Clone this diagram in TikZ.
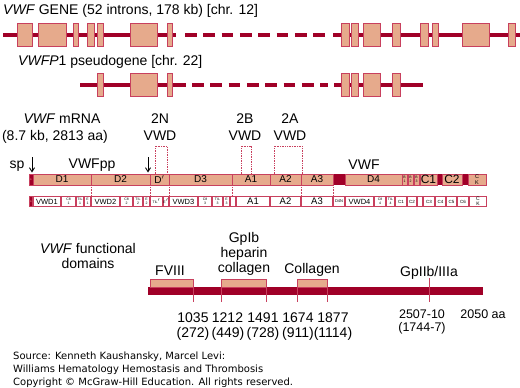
\documentclass[tikz,border=0pt]{standalone}
\usepackage{fontspec}
\setmainfont{Liberation Sans}
\newfontfamily\srcfont{DejaVu Sans}
\usetikzlibrary{arrows.meta}
\definecolor{vwfred}{RGB}{160,0,40}
\definecolor{vwftan}{RGB}{230,170,140}
\definecolor{vwfedge}{RGB}{200,64,94}
\newcommand\fs[1]{\fontsize{#1}{#1}\selectfont}
\tikzset{
  intron/.style={draw=vwfred, line width=4pt},
  exon/.style={draw=vwfedge, fill=vwftan, line width=0.8pt},
  dom/.style={draw=vwfedge, fill=vwftan, line width=0.8pt, inner sep=0pt, minimum height=11pt, font=\fs{10}},
  sub/.style={draw=vwfedge, fill=white, line width=0.8pt, inner sep=0pt, minimum height=10.5pt, font=\fs{7.5}},
  tinytxt/.style={font=\fs{3.5}, align=center},
  vwdbox/.style={draw=vwfedge, densely dotted, line width=0.7pt},
  sep/.style={draw=vwfedge, densely dotted, line width=0.6pt},
  lbl/.style={font=\fs{14}, inner sep=0pt},
  small/.style={font=\fs{12.5}, inner sep=0pt},
  tick/.style={draw=vwfedge, line width=1pt},
  src/.style={font=\srcfont\fs{10}, inner sep=0pt, anchor=base west},
  arr/.style={-{Straight Barb[length=4pt,width=5pt]}, line width=0.9pt},
}
% main domain box: [style]{name}{x1}{x2}{text}
\newcommand\mdom[5][]{\node[dom,#1,minimum width={(#4-#3)*1pt}] (#2) at ({(#3+#4)/2},179.5) {#5};}
% sub domain box
\newcommand\sdom[5][]{\node[sub,#1,minimum width={(#4-#3)*1pt-1.4pt}] (#2) at ({(#3+#4)/2},201.5) {#5};}
\begin{document}
\begin{tikzpicture}[x=1pt,y=-1pt]
\useasboundingbox (0,0) rectangle (520,388);
% gene
\node[lbl, anchor=base west] (gene) at (3,14) {\textit{VWF} GENE (52 introns, 178 kb) [chr. 12]};
\draw[intron] (3,34.5) -- (176,34.5);
\draw[intron, dash pattern=on 11.7pt off 6.6pt] (185,34.5) -- (325,34.5);
\draw[intron] (333,34.5) -- (520,34.5);
\foreach \a/\b in {17/32, 38/66, 73/78, 87/94, 97/103, 130/157, 167/172, 341/349, 351/358, 363/380, 392/400, 420/428, 432/438, 462/489, 508/515}
  \draw[exon] (\a,23) rectangle (\b,46);
% pseudogene
\node[lbl, anchor=base west] (pseudo) at (18,65) {\textit{VWFP}1 pseudogene [chr. 22]};
\draw[intron] (80,85) -- (186,85);
\draw[intron, dash pattern=on 11.7pt off 6.6pt] (192,85) -- (328,85);
\draw[intron] (334,85) -- (423,85);
\foreach \a/\b in {97/103, 130/157, 167/172, 341/349, 351/358, 363/380, 392/400}
  \draw[exon] (\a,73.5) rectangle (\b,96.5);
% mRNA
\node[lbl, anchor=base] (mrna) at (62,123) {\textit{VWF} mRNA};
\node[lbl, anchor=base] (mrnasize) at (55,140) {(8.7 kb, 2813 aa)};
\node[lbl, anchor=base] (t2n) at (160,123) {2N};
\node[lbl, anchor=base] (v2n) at (160,140) {VWD};
\node[lbl, anchor=base] (t2b) at (245,123) {2B};
\node[lbl, anchor=base] (v2b) at (245,140) {VWD};
\node[lbl, anchor=base] (t2a) at (290,123) {2A};
\node[lbl, anchor=base] (v2a) at (290,140) {VWD};
\draw[vwdbox] (155,174) |- (167,146) -- (167,174);
\draw[vwdbox] (241,174) |- (251,146) -- (251,174);
\draw[vwdbox] (274,174) |- (302,146) -- (302,174);
\node[lbl, anchor=base] (sp) at (17,168) {sp};
\node[lbl, anchor=base] (vwfpp) at (92,168) {VWFpp};
\node[lbl, anchor=base] (vwf) at (364,169) {VWF};
\coordinate (sparr) at (32,157);
\coordinate (pparr) at (148,157);
\draw[arr] (sparr) -- (32,172.5);
\draw[arr] (pparr) -- (148,172.5);
\fill[vwfred] (29,174) rectangle (486,185);
\mdom[fill=vwfred, font=\fs{3}, text=vwftan]{spm}{29}{33}{s}
\mdom{D1}{33}{91}{D1}
\mdom{D2}{91}{150}{D2}
\mdom{Dp}{150}{169}{D$'$}
\mdom{D3}{169}{232}{D3}
\mdom{A1}{232}{270}{A1}
\mdom{A2}{270}{301}{A2}
\mdom{A3}{301}{333}{A3}
\mdom{D4}{345}{402}{D4}
\mdom[tinytxt]{B1}{402}{407}{B\\1}
\mdom[tinytxt]{B2}{408}{413}{B\\2}
\mdom[tinytxt]{B3}{414}{419}{B\\3}
\mdom[font=\fs{12}]{C1}{420}{437}{C1}
\mdom[font=\fs{12}]{C2}{442}{462}{C2}
\mdom[tinytxt,font=\fs{5.5}]{CK}{468}{486}{C\\K}
% sub domains
\sdom[fill=vwfred, font=\fs{3}, text=vwftan]{sps}{29}{33}{s}
\sdom{vwd1}{33}{61}{VWD1}
\sdom[tinytxt]{c81}{61}{76}{C8\\1}
\sdom[tinytxt]{til1}{76}{84}{TIL\\1}
\sdom[tinytxt]{e1}{84}{91}{E\\1}
\sdom{vwd2}{91}{120}{VWD2}
\sdom[tinytxt]{c82}{120}{133}{C8\\2}
\sdom[tinytxt]{til2}{133}{143}{TIL\\2}
\sdom[tinytxt]{e2}{143}{150}{E\\2}
\sdom[tinytxt]{tilp}{150}{163}{TIL$'$}
\sdom[tinytxt]{ep}{163}{169}{E$'$}
\sdom{vwd3}{169}{198}{VWD3}
\sdom[tinytxt]{c83}{198}{212}{C8\\3}
\sdom[tinytxt]{til3}{212}{223}{TIL\\3}
\sdom[tinytxt]{e3}{223}{230}{E\\3}
\sdom{gap1}{230}{236}{}
\sdom[font=\fs{9.5}]{a1s}{236}{270}{A1}
\sdom[font=\fs{9.5}]{a2s}{270}{301}{A2}
\sdom[font=\fs{9.5}]{a3s}{301}{333}{A3}
\sdom[font=\fs{4}]{d4n}{333}{345}{D4N}
\sdom{vwd4}{345}{374}{VWD4}
\sdom[tinytxt]{c84}{374}{386}{C8\\4}
\sdom[tinytxt]{til4}{386}{395}{TIL\\4}
\sdom[font=\fs{4.5}]{c1s}{395}{407}{C1}
\sdom[font=\fs{4.5}]{c2s}{407}{417}{C2}
\sdom{gap2}{417}{423}{}
\sdom[font=\fs{4.5}]{c3s}{423}{435}{C3}
\sdom[font=\fs{4.5}]{c4s}{435}{446}{C4}
\sdom[font=\fs{4.5}]{c5s}{446}{457}{C5}
\sdom[font=\fs{4.5}]{c6s}{457}{469}{C6}
\sdom[tinytxt,font=\fs{5}]{cks}{469}{487}{C\\K}
\foreach \n in {D1,D2,Dp,D3,A2,A3}
  \draw[sep] (\n.south east) -- (\n.south east |- vwd1.north);
% functional domains
\node[lbl, anchor=base] (func) at (88,253) {\textit{VWF} functional};
\node[lbl, anchor=base] (domains) at (88,268) {domains};
\node[lbl, anchor=base] (fviii) at (170,275) {FVIII};
\node[lbl, anchor=base] (gpib) at (244,242.5) {GpIb};
\node[lbl, anchor=base] (heparin) at (244,257.5) {heparin};
\node[lbl, anchor=base] (collagen) at (244,272.5) {collagen};
\node[lbl, anchor=base] (collagen2) at (312,273) {Collagen};
\node[lbl, anchor=base] (gp2b3a) at (429,276) {GpIIb/IIIa};
\fill[vwfred] (148,287) rectangle (483,295);
\draw[exon] (150,279) rectangle (193,287);
\draw[exon] (221,279) rectangle (266,287);
\draw[exon] (297,279) rectangle (327,287);
\foreach \x in {193,221,266,297,327}
  \draw[tick] (\x,279) -- (\x,302);
\draw[tick] (429,278) -- (429,302);
\node[lbl, anchor=base] (n1035) at (193,322) {1035};
\node[lbl, anchor=base] (n1212) at (227.5,322) {1212};
\node[lbl, anchor=base] (n1491) at (263,322) {1491};
\node[lbl, anchor=base] (n1674) at (298,322) {1674};
\node[lbl, anchor=base] (n1877) at (333,322) {1877};
\node[lbl, anchor=base] (m272) at (193,337) {(272)};
\node[lbl, anchor=base] (m449) at (228,337) {(449)};
\node[lbl, anchor=base] (m728) at (263,337) {(728)};
\node[lbl, anchor=base] (m911) at (298,337) {(911)};
\node[lbl, anchor=base] (m1114) at (333,337) {(1114)};
\node[small, anchor=base] (n2507) at (422,318) {2507-10};
\node[small, anchor=base] (m1744) at (422,331) {(1744-7)};
\node[small, anchor=base] (n2050) at (483,318) {2050 aa};
% source
\node[src] (src1) at (13,359) {Source: Kenneth Kaushansky, Marcel Levi:};
\node[src] (src2) at (13,372) {Williams Hematology Hemostasis and Thrombosis};
\node[src] (src3) at (13,385) {Copyright © McGraw-Hill Education. All rights reserved.};
\end{tikzpicture}
\end{document}
